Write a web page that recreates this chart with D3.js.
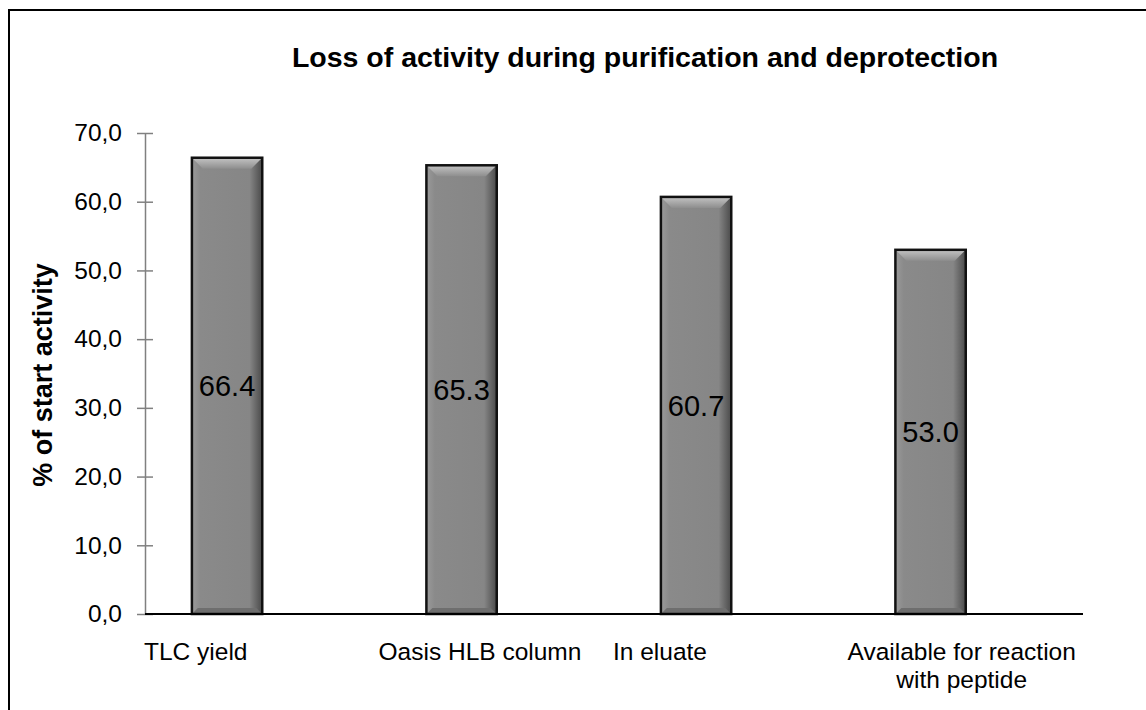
<!DOCTYPE html>
<html>
<head>
<meta charset="utf-8">
<script src="https://cdn.jsdelivr.net/npm/d3@7/dist/d3.min.js"></script>
<style>
  body { margin: 0; background: #fff; }
  svg { display: block; }
  text { font-family: "Liberation Sans", Arial, sans-serif; fill: #000; }
</style>
</head>
<body>
<div class="main-container"></div>
<script>
// chart data
const categories = ['TLC yield', 'Oasis HLB column', 'In eluate', 'Available for reaction|with peptide'];
const values = [66.4, 65.3, 60.7, 53.0];
const yTicks = [0, 10, 20, 30, 40, 50, 60, 70];

const titleText = 'Loss of activity during purification and deprotection';
const yTitle = '% of start activity';

// layout
const width = 1146;
const height = 710;
const plot = {l: 145, r: 1083, t: 133, b: 614};

const svg = d3.select('.main-container').append('svg')
    .attr('width', width)
    .attr('height', height);

// outer frame (runs off the right and bottom edge)
svg.append('rect')
    .attr('x', 9).attr('y', 10)
    .attr('width', width + 20).attr('height', height + 20)
    .attr('fill', 'none')
    .attr('stroke', '#000')
    .attr('stroke-width', 2);

// scales
const x = d3.scaleBand()
    .domain(categories)
    .range([plot.l, plot.r]);

const y = d3.scaleLinear()
    .domain([0, 70])
    .range([plot.b, plot.t]);

const commaFmt = d3.formatLocale({decimal: ',', thousands: '.', grouping: [3], currency: ['', '']}).format('.1f');

// gradients for the bevelled columns
const defs = svg.append('defs');
const topGrad = defs.append('linearGradient').attr('id', 'topBevel')
    .attr('x1', 0).attr('y1', 0).attr('x2', 0).attr('y2', 1);
topGrad.append('stop').attr('offset', '0%').attr('stop-color', '#c4c4c4');
topGrad.append('stop').attr('offset', '100%').attr('stop-color', '#8e8e8e');

const sideGrad = defs.append('linearGradient').attr('id', 'bodyGrad')
    .attr('x1', 0).attr('y1', 0).attr('x2', 1).attr('y2', 0);
sideGrad.append('stop').attr('offset', '0%').attr('stop-color', '#9a9a9a');
sideGrad.append('stop').attr('offset', '12%').attr('stop-color', '#8a8a8a');
sideGrad.append('stop').attr('offset', '82%').attr('stop-color', '#868686');
sideGrad.append('stop').attr('offset', '100%').attr('stop-color', '#4a4a4a');

// y axis
const yAxis = svg.append('g')
    .attr('transform', `translate(${plot.l},0)`)
    .call(d3.axisLeft(y).tickValues(yTicks).tickFormat(commaFmt).tickSizeInner(8).tickSizeOuter(0).tickPadding(15));

yAxis.select('.domain').attr('stroke', '#808080').attr('stroke-width', 1.5);
yAxis.selectAll('.tick line')
    .attr('x1', -8).attr('x2', 8)
    .attr('stroke', '#808080').attr('stroke-width', 1.5);
yAxis.selectAll('.tick text')
    .attr('x', -23)
    .style('font-family', '"Liberation Sans", Arial, sans-serif')
    .style('font-size', '24.5px')
    .attr('fill', '#000');

// bars
const barOffset = x.bandwidth() * 0.2;
const barW = x.bandwidth() * 0.3;
const bev = 11;

const bars = svg.selectAll('.bar')
    .data(categories)
    .enter().append('g')
    .attr('class', 'bar');

bars.each(function(c, i) {
    const g = d3.select(this);
    const x0 = x(c) + barOffset;
    const x1 = x0 + barW;
    const y0 = y(values[i]);
    const y1 = y(0);

    g.append('rect')
        .attr('x', x0).attr('y', y0)
        .attr('width', barW).attr('height', y1 - y0)
        .attr('fill', 'url(#bodyGrad)');

    // top bevel
    g.append('path')
        .attr('d', `M${x0},${y0}L${x1},${y0}L${x1 - bev},${y0 + bev}L${x0 + bev},${y0 + bev}Z`)
        .attr('fill', 'url(#topBevel)');

    // bottom bevel
    g.append('path')
        .attr('d', `M${x0},${y1}L${x1},${y1}L${x1 - 6},${y1 - 6}L${x0 + 6},${y1 - 6}Z`)
        .attr('fill', '#6e6e6e');

    g.append('rect')
        .attr('x', x0).attr('y', y0)
        .attr('width', barW).attr('height', y1 - y0)
        .attr('fill', 'none')
        .attr('stroke', '#111')
        .attr('stroke-width', 2.5);
});

// value labels inside the bars
svg.selectAll('.val')
    .data(values)
    .enter().append('text')
    .attr('class', 'val')
    .attr('x', (d, i) => x(categories[i]) + barOffset + barW / 2)
    .attr('y', d => y(d / 2))
    .attr('dy', '0.36em')
    .attr('text-anchor', 'middle')
    .style('font-size', '29px')
    .attr('fill', '#111')
    .text(d => d.toFixed(1));

// x axis line
svg.append('line')
    .attr('x1', plot.l).attr('x2', plot.r)
    .attr('y1', y(0)).attr('y2', y(0))
    .attr('stroke', '#000')
    .attr('stroke-width', 2);

// category labels (left aligned at band start, wrapped lines centred on the block)
categories.forEach(c => {
    const lines = c.split('|');
    const t = svg.append('text')
        .attr('class', 'cat')
        .style('font-size', '24.5px');
    const spans = lines.map((ln, k) => t.append('tspan')
        .attr('y', 660 + k * 28)
        .text(ln));
    const widths = spans.map(s => s.node().getComputedTextLength());
    const maxW = d3.max(widths);
    const left = x(c) - 1;
    spans.forEach((s, k) => s.attr('x', left + (maxW - widths[k]) / 2));
});

// title
svg.append('text')
    .attr('x', 645)
    .attr('y', 67)
    .attr('text-anchor', 'middle')
    .style('font-size', '28.5px')
    .style('font-weight', 'bold')
    .text(titleText);

// y axis title
svg.append('text')
    .attr('transform', 'translate(52,375) rotate(-90)')
    .attr('text-anchor', 'middle')
    .style('font-size', '27px')
    .style('font-weight', 'bold')
    .text(yTitle);
</script>
</body>
</html>
